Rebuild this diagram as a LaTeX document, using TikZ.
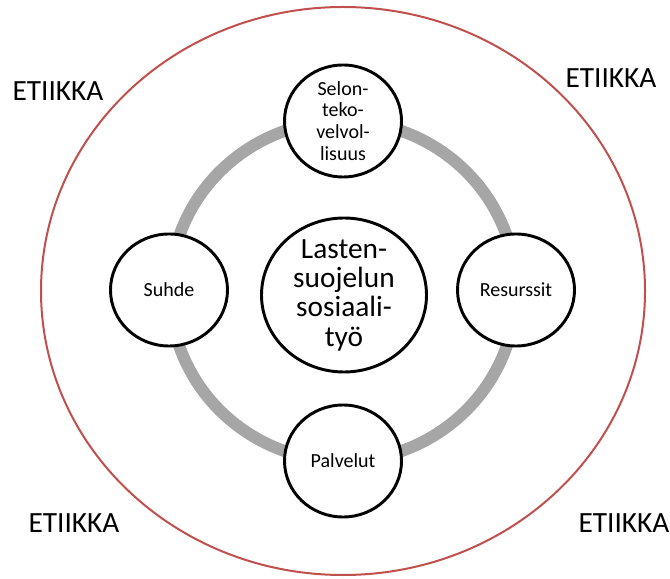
\documentclass[tikz,border=0pt]{standalone}
\usepackage{fontspec}
\setmainfont{Carlito}
\usetikzlibrary{shapes.geometric}
\definecolor{ethicsred}{RGB}{192,80,77}
\definecolor{ringgray}{RGB}{166,166,166}

\begin{document}
\begin{tikzpicture}[x=0.75pt, y=0.75pt,
	theme/.style={ellipse, draw, line width=2.2pt, fill=white, inner sep=0pt, align=center,
		minimum width=87.75pt, minimum height=84pt, font=\fontsize{15}{16.3}\selectfont},
	core/.style={theme, minimum width=123.75pt, minimum height=115.5pt, inner ysep=-12pt,
		font=\fontsize{22}{22}\selectfont}]
	% frame
	\useasboundingbox (0, 0) rectangle (670, 578);
	\draw[color=ethicsred, line width=1.5pt] (343, 287) ellipse [x radius=302, y radius=284];
	\foreach \x/\y in {58/487, 611/500, 74/55, 624/55}
		\node[font=\fontsize{22}{26}\selectfont] (etiikka\x) at (\x, \y) {ETIIKKA};

	% ring
	\draw[color=ringgray, line width=9pt] (343, 287) ellipse [x radius=173, y radius=170];

	% themes
	\node[theme, inner ysep=-8pt] (selonteko) at (343, 457) {Selon-\\teko-\\velvol-\\lisuus};
	\node[theme] (resurssit) at (516, 288) {Resurssit};
	\node[theme] (palvelut) at (343, 117) {Palvelut};
	\node[theme] (suhde) at (169, 288) {Suhde};
	\node[core] (sosiaalityo) at (344, 283) {Lasten-\\suojelun\\sosiaali-\\työ};
\end{tikzpicture}
\end{document}
